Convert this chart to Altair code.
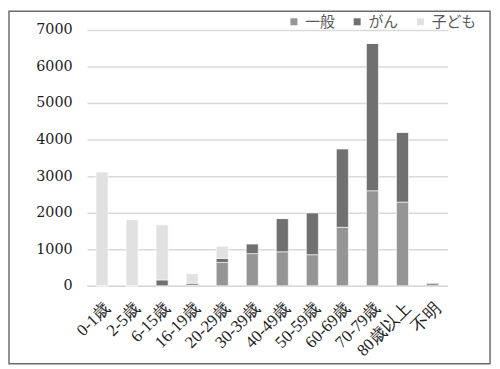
import altair as alt
import pandas as pd

categories = ["0-1歳", "2-5歳", "6-15歳", "16-19歳", "20-29歳", "30-39歳",
              "40-49歳", "50-59歳", "60-69歳", "70-79歳", "80歳以上", "不明"]
series = ["一般", "がん", "子ども"]
ippan = [0, 0, 0, 20, 640, 880, 930, 850, 1600, 2600, 2290, 70]
gan = [0, 0, 160, 50, 110, 270, 910, 1150, 2150, 4030, 1910, 20]
kodomo = [3110, 1810, 1510, 260, 330, 0, 0, 0, 0, 0, 0, 0]
colors = ["#959595", "#707070", "#e1e1e1"]

rows = []
for i, c in enumerate(categories):
    for k, (s, vals) in enumerate(zip(series, [ippan, gan, kodomo])):
        rows.append({"cat": c, "series": s, "value": vals[i], "order": k})
df = pd.DataFrame(rows)

W, H = 365, 259

bars = alt.Chart(df).mark_bar(stroke="#ffffff", strokeWidth=0.6).encode(
    x=alt.X("cat:N", sort=categories, title=None,
            scale=alt.Scale(paddingInner=0.6, paddingOuter=0.3),
            axis=alt.Axis(labelAngle=-45, labelFont="Liberation Serif",
                          labelFontSize=17, labelColor="#222222", ticks=False,
                          domainColor="#d9d9d9", domainWidth=1.5,
                          labelPadding=14)),
    y=alt.Y("value:Q", title=None, stack="zero",
            scale=alt.Scale(domain=[0, 7000], nice=False),
            axis=alt.Axis(values=list(range(0, 7001, 1000)), format="d",
                          labelFont="DejaVu Serif",
                          labelFontSize=14.5, labelColor="#222222", ticks=False,
                          domain=False, gridColor="#dadada", gridWidth=1.5,
                          labelPadding=15)),
    color=alt.Color("series:N", sort=series,
                    scale=alt.Scale(domain=series, range=colors),
                    legend=alt.Legend(title=None, orient="none", legendX=202,
                                      legendY=-16, direction="horizontal",
                                      symbolType="square", symbolSize=50,
                                      symbolStrokeWidth=0,
                                      labelFont="Noto Sans CJK JP",
                                      labelFontSize=15, labelColor="#595959",
                                      columnPadding=14, padding=0)),
    order=alt.Order("order:Q", sort="ascending"),
)

frame = alt.Chart(pd.DataFrame({"a": [0]})).mark_rect(
    fill=None, stroke="#6b6b6b", strokeWidth=1.5
).encode(
    x=alt.value(-79), x2=alt.value(408),
    y=alt.value(-19), y2=alt.value(338),
)

chart = alt.layer(bars, frame).properties(
    width=W, height=H,
    padding={"left": 80, "top": 20, "right": 45, "bottom": 80},
    autosize=alt.AutoSizeParams(type="none"),
).configure_view(stroke=None)

chart.save("out.html", embed_options={"renderer": "svg", "actions": False})
